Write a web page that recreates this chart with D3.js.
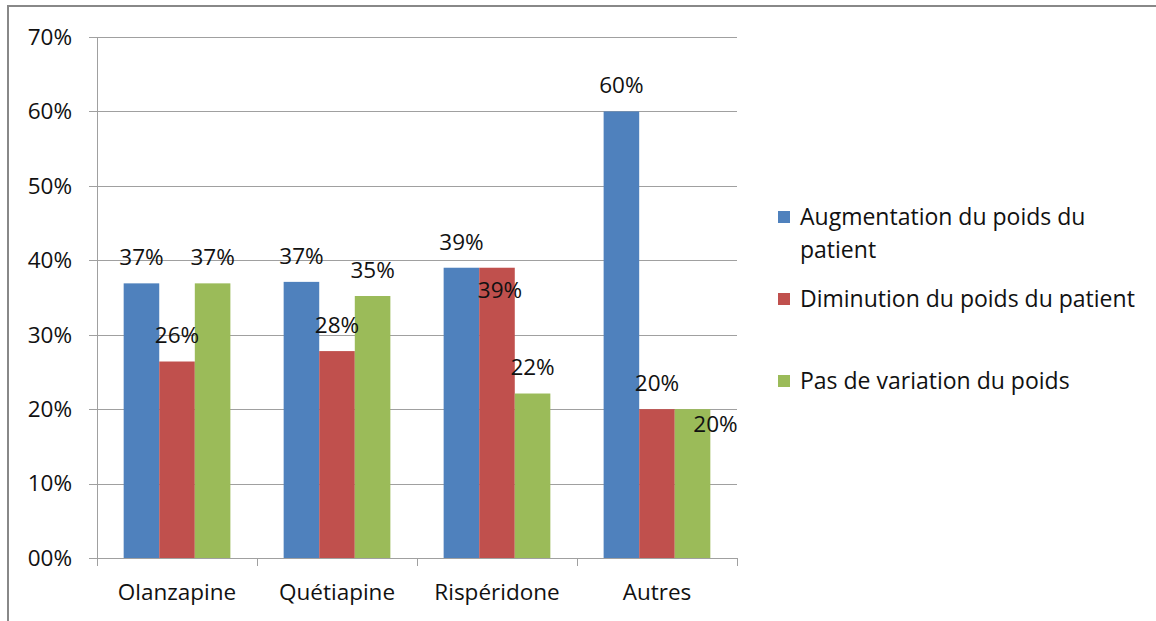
<!DOCTYPE html>
<html lang="fr">
  <head>
    <meta charset="UTF-8" />
    <script src="https://d3js.org/d3.v7.min.js"></script>
    <title>Variation du poids</title>
    <style>
      body { margin: 0; background: #fff; }
      text { font-family: "Open Sans", sans-serif; fill: #111; }
    </style>
  </head>
  <body>
    <svg id="chart" width="1156" height="621"></svg>
    <script>
      // Data
      var categories = ['Olanzapine', 'Quétiapine', 'Rispéridone', 'Autres'];
      var seriesNames = [
        'Augmentation du poids du patient',
        'Diminution du poids du patient',
        'Pas de variation du poids'
      ];
      var augmentation = [0.369, 0.371, 0.39, 0.60];
      var diminution = [0.264, 0.278, 0.39, 0.20];
      var pasDeVariation = [0.369, 0.352, 0.221, 0.20];
      var yTicks = [0, 0.1, 0.2, 0.3, 0.4, 0.5, 0.6, 0.7];
      var colors = ['#4F81BD', '#C0504D', '#9BBB59'];

      // label nudges (Excel put some labels in odd places)
      var labelShift = {
        '2-1': { dx: 3, dy: 48 },
        '3-2': { dx: 23, dy: 41 }
      };

      var series = [augmentation, diminution, pasDeVariation];

      var svg = d3.select('#chart');
      var margin = { left: 97, right: 419, top: 37, bottom: 63 };
      var width = +svg.attr('width'), height = +svg.attr('height');
      var fontSize = '22.5px';

      // outer chart border
      svg.append('rect')
        .attr('x', 8).attr('y', 6)
        .attr('width', 1160).attr('height', 640)
        .attr('fill', 'none')
        .attr('stroke', '#888').attr('stroke-width', 2);

      var x0 = d3.scaleBand()
        .domain(categories)
        .range([margin.left, width - margin.right])
        .paddingInner(0.333).paddingOuter(0.1667);
      var x1 = d3.scaleBand()
        .domain(d3.range(series.length))
        .range([0, x0.bandwidth()]);
      var y = d3.scaleLinear()
        .domain([0, 0.7])
        .range([height - margin.bottom, margin.top]);

      // gridlines
      svg.append('g')
        .selectAll('line')
        .data(yTicks)
        .enter().append('line')
        .attr('x1', margin.left - 8)
        .attr('x2', width - margin.right)
        .attr('y1', function(d) { return Math.round(y(d)) + 0.5; })
        .attr('y2', function(d) { return Math.round(y(d)) + 0.5; })
        .attr('stroke', '#a0a0a0');

      // y axis line
      svg.append('line')
        .attr('x1', margin.left + 0.5).attr('x2', margin.left + 0.5)
        .attr('y1', y(0.7)).attr('y2', y(0))
        .attr('stroke', '#a0a0a0');

      // y tick labels
      svg.append('g')
        .selectAll('text')
        .data(yTicks)
        .enter().append('text')
        .attr('x', 72)
        .attr('y', function(d) { return y(d); })
        .attr('dy', '0.35em')
        .attr('text-anchor', 'end')
        .style('font-size', fontSize)
        .text(function(d) { return d === 0 ? '00%' : d3.format('.0%')(d); });

      // category ticks under x axis
      var step = x0.step();
      var bounds = categories.map(function(c) { return x0(c) - x0.paddingOuter() * step; });
      bounds.push(width - margin.right);
      svg.append('g')
        .selectAll('line')
        .data(bounds)
        .enter().append('line')
        .attr('x1', function(d) { return Math.round(d) + 0.5; })
        .attr('x2', function(d) { return Math.round(d) + 0.5; })
        .attr('y1', y(0)).attr('y2', y(0) + 8)
        .attr('stroke', '#a0a0a0');

      svg.append('g')
        .selectAll('text')
        .data(categories)
        .enter().append('text')
        .attr('x', function(d) { return x0(d) + x0.bandwidth() / 2; })
        .attr('y', 592)
        .attr('dy', '0.35em')
        .attr('text-anchor', 'middle')
        .style('font-size', fontSize)
        .text(function(d) { return d; });

      // bars
      var groups = svg.append('g')
        .selectAll('g')
        .data(categories)
        .enter().append('g')
        .attr('transform', function(d) { return 'translate(' + x0(d) + ',0)'; });

      groups.selectAll('rect')
        .data(function(d, i) { return series.map(function(s, j) { return { s: j, c: i, v: s[i] }; }); })
        .enter().append('rect')
        .attr('x', function(d) { return x1(d.s); })
        .attr('width', x1.bandwidth())
        .attr('y', function(d) { return y(d.v); })
        .attr('height', function(d) { return y(0) - y(d.v); })
        .attr('fill', function(d) { return colors[d.s]; });

      groups.selectAll('text')
        .data(function(d, i) { return series.map(function(s, j) { return { s: j, c: i, v: s[i] }; }); })
        .enter().append('text')
        .attr('x', function(d) {
          var sh = labelShift[d.c + '-' + d.s];
          return x1(d.s) + x1.bandwidth() / 2 + (sh ? sh.dx : 0);
        })
        .attr('y', function(d) {
          var sh = labelShift[d.c + '-' + d.s];
          return y(d.v) - 26 + (sh ? sh.dy : 0);
        })
        .attr('dy', '0.35em')
        .attr('text-anchor', 'middle')
        .style('font-size', fontSize)
        .text(function(d) { return Math.round(d.v * 100) + '%'; });

      // legend
      var legend = svg.append('g');
      var legendY = [217, 299, 381];
      seriesNames.forEach(function(name, i) {
        legend.append('rect')
          .attr('x', 778).attr('y', legendY[i] - 6)
          .attr('width', 12).attr('height', 12)
          .attr('fill', colors[i]);
        var t = legend.append('text')
          .attr('x', 800).attr('y', legendY[i])
          .attr('dy', '0.35em')
          .style('font-size', '23px');
        if (i === 0) {
          t.append('tspan').attr('x', 800).text('Augmentation du poids du');
          t.append('tspan').attr('x', 800).attr('dy', '1.45em').text('patient');
        } else {
          t.text(name);
        }
      });
    </script>
  </body>
</html>
